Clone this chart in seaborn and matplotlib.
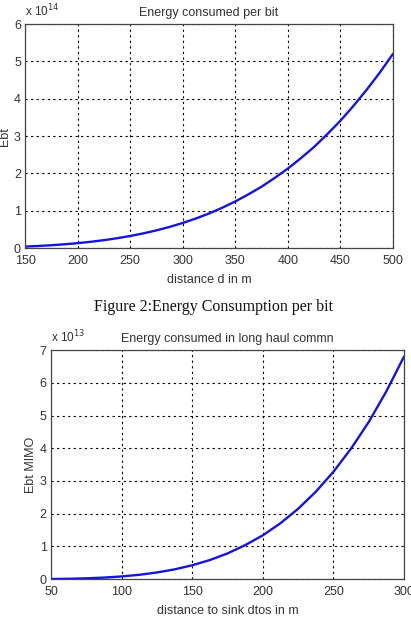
import numpy as np
import pandas as pd
import matplotlib
matplotlib.use("Agg")
import matplotlib.pyplot as plt
import seaborn as sns
from matplotlib.ticker import ScalarFormatter

# energy per bit vs distance (x 1e14)
dist_top = [150, 162.5, 175, 187.5, 200, 212.5, 225, 237.5, 250, 262.5, 275, 287.5, 300, 312.5, 325,
            337.5, 350, 362.5, 375, 387.5, 400, 412.5, 425, 437.5, 450, 462.5, 475, 487.5, 500]
ebt_top = [0.042, 0.058, 0.078, 0.103, 0.133, 0.170, 0.213, 0.265, 0.325, 0.395, 0.476, 0.568, 0.674,
           0.793, 0.928, 1.08, 1.25, 1.44, 1.645, 1.88, 2.13, 2.41, 2.71, 3.05, 3.41, 3.81, 4.24,
           4.70, 5.20]

# long haul MIMO energy vs distance to sink (x 1e13)
dist_bot = [50, 62.5, 75, 87.5, 100, 112.5, 125, 137.5, 150, 162.5, 175, 187.5,
            200, 212.5, 225, 237.5, 250, 262.5, 275, 287.5, 300]
ebt_bot = [0.005, 0.013, 0.027, 0.049, 0.084, 0.134, 0.205, 0.30, 0.425, 0.585, 0.787, 1.04,
           1.34, 1.71, 2.15, 2.67, 3.28, 3.99, 4.80, 5.74, 6.80]

sns.set_style("white")
plt.rcParams['font.family'] = ['Liberation Sans Narrow', 'Liberation Sans', 'DejaVu Sans']
plt.rcParams['xtick.direction'] = 'in'
plt.rcParams['ytick.direction'] = 'in'

fig = plt.figure(figsize=(4.11, 6.33), dpi=100)
ax1 = fig.add_axes([0.061, 0.608, 0.895, 0.354])
ax2 = fig.add_axes([0.124, 0.085, 0.859, 0.362])

df1 = pd.DataFrame({'d': dist_top, 'Ebt': np.array(ebt_top) * 1e14})
df2 = pd.DataFrame({'d': dist_bot, 'Ebt': np.array(ebt_bot) * 1e13})

sns.lineplot(data=df1, x='d', y='Ebt', ax=ax1, color='#1414dc', linewidth=1.7)
sns.lineplot(data=df2, x='d', y='Ebt', ax=ax2, color='#1414dc', linewidth=1.7)

def matlab_style(ax, xlim, ylim, xticks, yticks, title, xlabel, ylabel):
    ax.set_xlim(*xlim)
    ax.set_ylim(*ylim)
    ax.set_xticks(xticks)
    ax.set_yticks(yticks)
    fmt = ScalarFormatter()
    fmt.set_powerlimits((0, 0))
    ax.yaxis.set_major_formatter(fmt)
    ax.yaxis.get_offset_text().set_visible(False)
    ax.grid(True, linestyle=(0, (2, 3)), color='black', linewidth=0.8)
    for s in ax.spines.values():
        s.set_color('#444444')
        s.set_linewidth(0.9)
    ax.tick_params(labelsize=9, length=3, colors='#333333')
    ax.tick_params(axis='x', pad=5)
    ax.tick_params(axis='y', pad=3)
    ax.set_title(title, fontsize=9, color='#333333', pad=6)
    ax.set_xlabel(xlabel, fontsize=9, color='#333333', labelpad=5)
    ax.set_ylabel(ylabel, fontsize=9, color='#333333', labelpad=2)

matlab_style(ax1, (150, 500), (0, 6e14), range(150, 501, 50), np.arange(0, 7) * 1e14,
             'Energy consumed per bit', 'distance d in m', 'Ebt')
ax1.set_yticklabels([str(i) for i in range(7)])
ax1.text(0.0, 1.02, r'x 10$^{14}$', transform=ax1.transAxes, fontsize=8.5, color='#333333',
         ha='left', va='bottom')

matlab_style(ax2, (50, 300), (0, 7e13), range(50, 301, 50), np.arange(0, 8) * 1e13,
             'Energy consumed in long haul commn', 'distance to sink dtos in m', 'Ebt MIMO')
ax2.set_yticklabels([str(i) for i in range(8)])
ax2.text(0.0, 1.02, r'x 10$^{13}$', transform=ax2.transAxes, fontsize=8.5, color='#333333',
         ha='left', va='bottom')

fig.text(0.52, 0.515, 'Figure 2:Energy Consumption per bit', family='Liberation Serif',
         fontsize=11.5, ha='center', va='center', color='#111111')

fig.savefig('out.png', dpi=100)
